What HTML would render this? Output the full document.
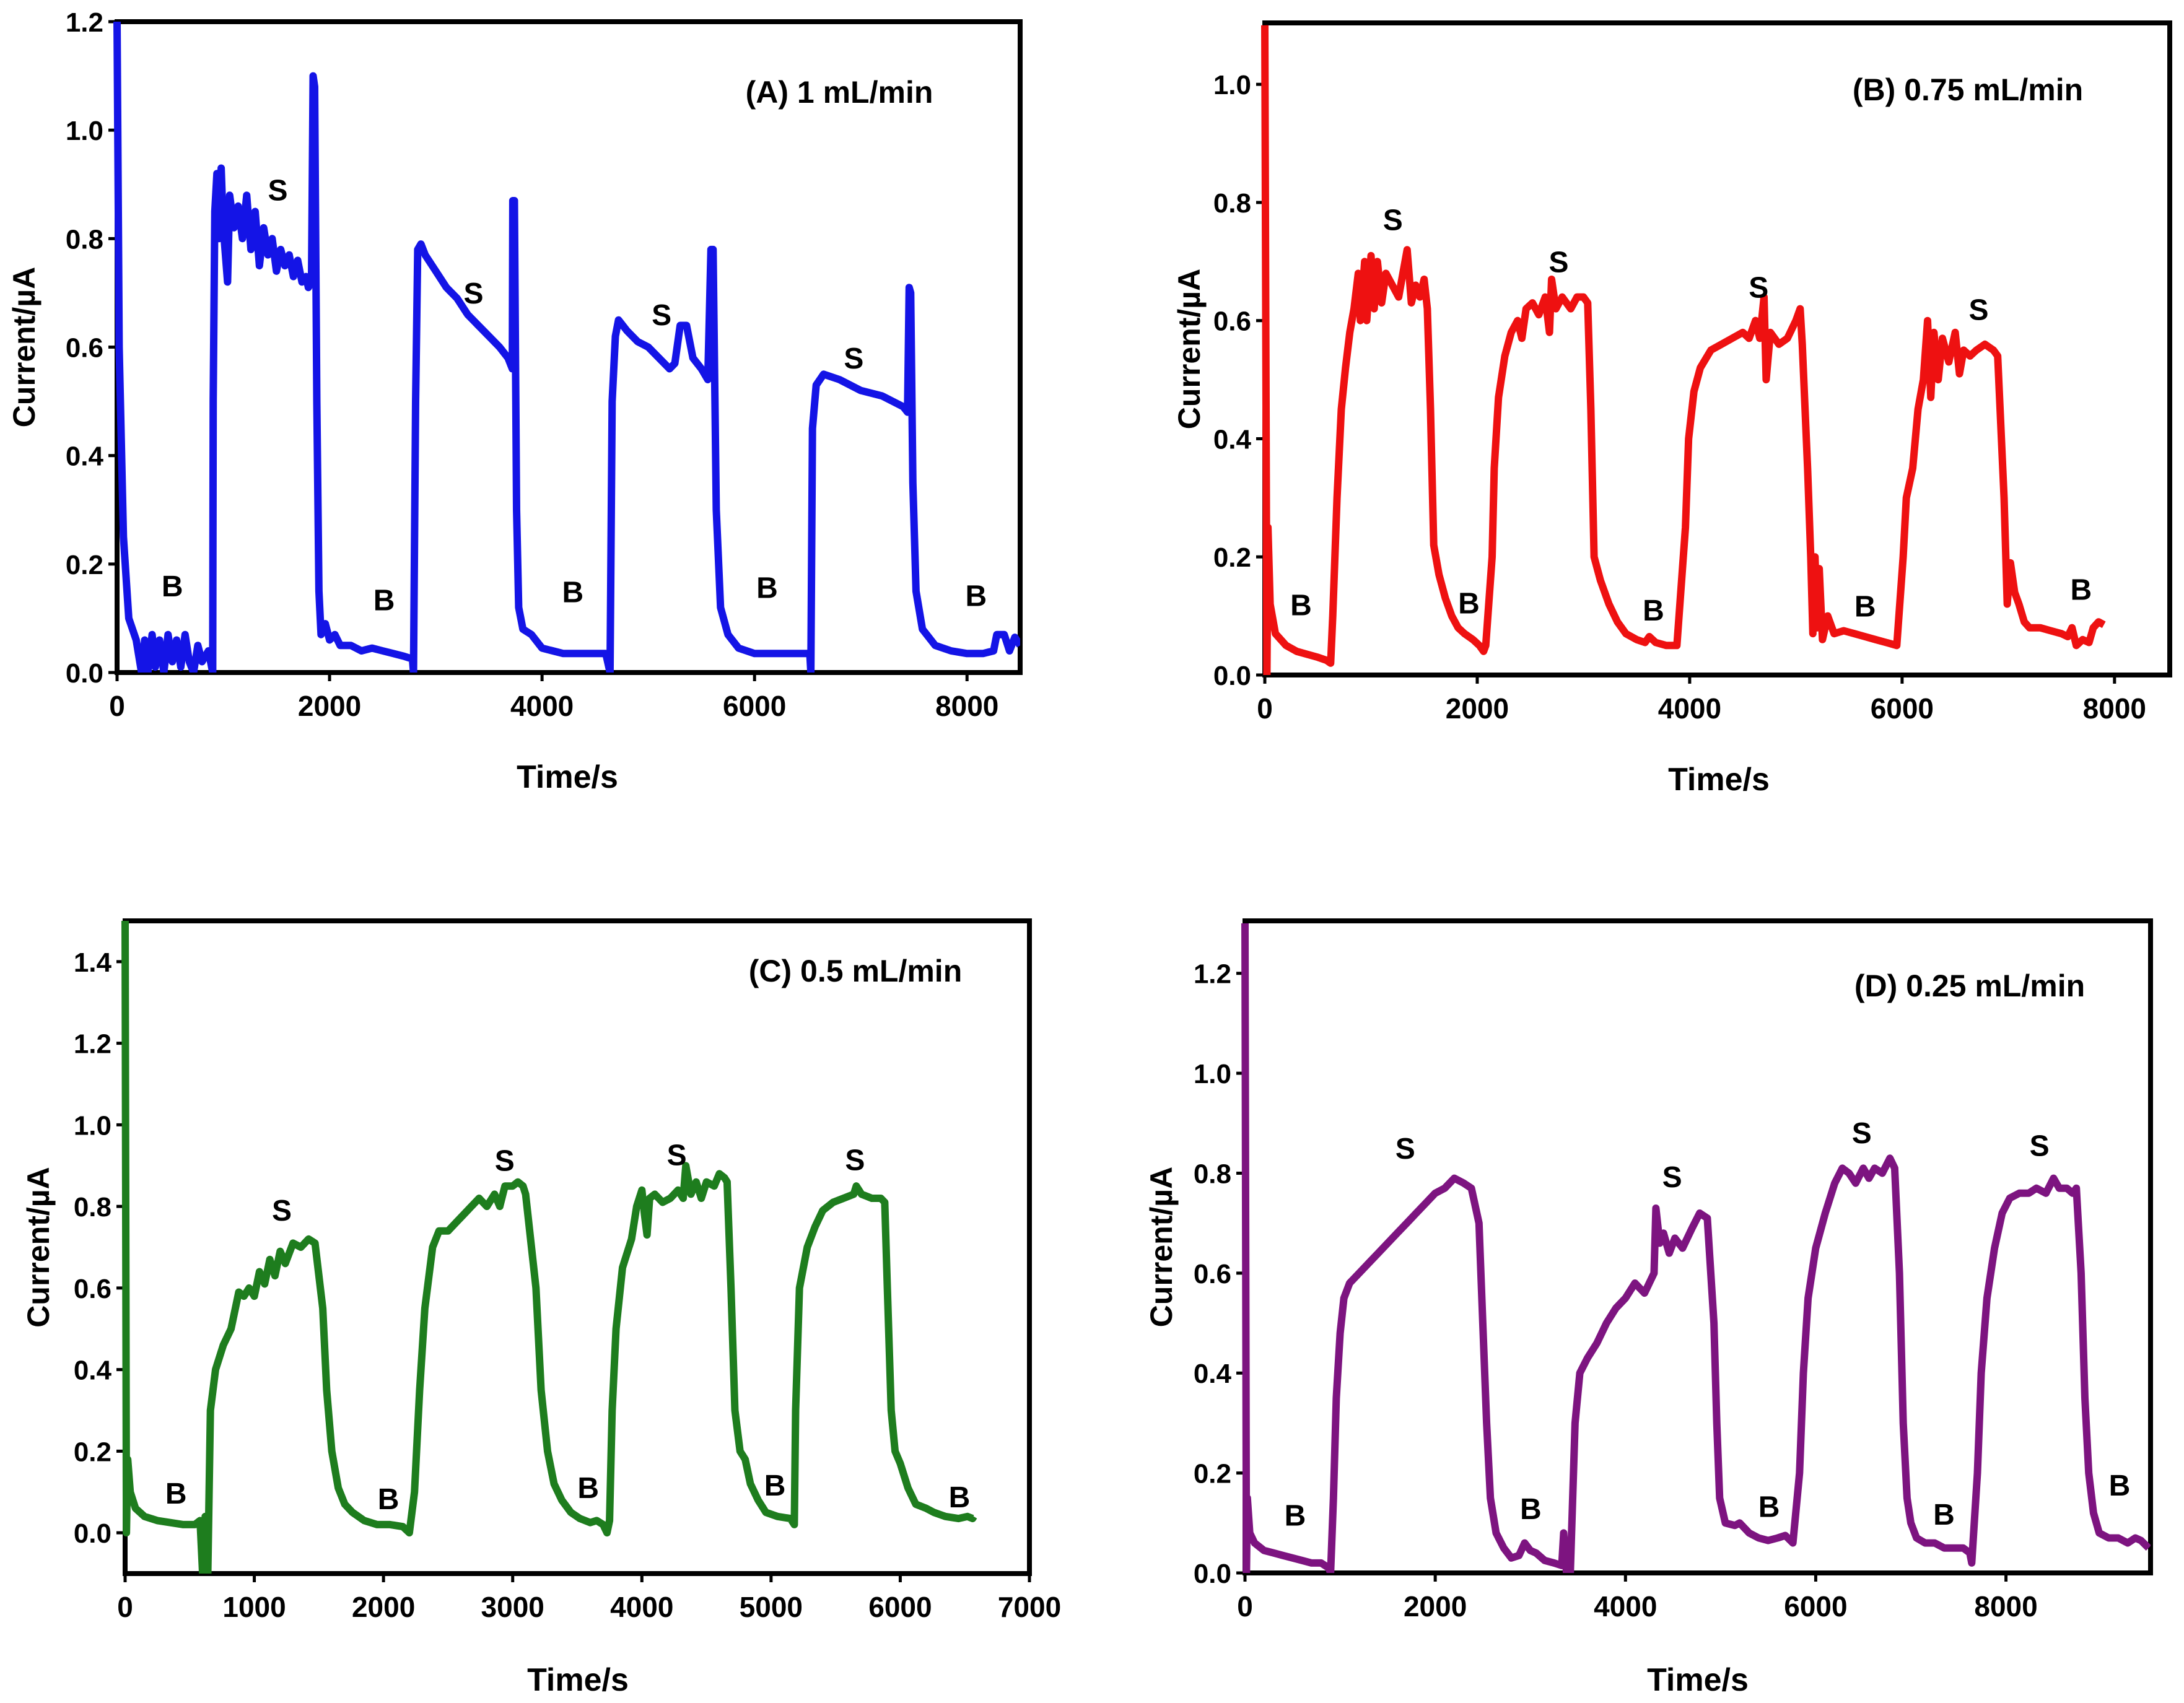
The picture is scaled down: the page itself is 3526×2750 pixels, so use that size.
<!DOCTYPE html>
<html><head><meta charset="utf-8"><style>
html,body{margin:0;padding:0;background:#fff;}
svg{display:block;}
text{font-family:"Liberation Sans",Arial,sans-serif;font-weight:bold;fill:#000;}
</style></head><body>
<svg id="fig" xmlns="http://www.w3.org/2000/svg" width="3526" height="2750" viewBox="0 0 3526 2750"></svg>
<script>
const seriesA=[[0,1.2],[20,0.6],[60,0.25],[110,0.1],[180,0.06],[230,0.0],[260,0.06],[290,0.0],[330,0.07],[360,0.01],[400,0.06],[440,0.0],[480,0.07],[520,0.02],[560,0.06],[600,0.01],[640,0.07],[680,0.02],[720,0.0],[760,0.05],[800,0.02],[860,0.04],[900,0.0],[905,0.5],[920,0.85],[940,0.92],[960,0.8],[980,0.93],[1000,0.82],[1040,0.72],[1060,0.88],[1100,0.82],[1140,0.86],[1180,0.8],[1220,0.88],[1260,0.78],[1300,0.85],[1340,0.75],[1380,0.82],[1420,0.77],[1460,0.8],[1500,0.74],[1540,0.78],[1580,0.75],[1620,0.77],[1660,0.73],[1700,0.76],[1740,0.72],[1780,0.73],[1800,0.71],[1830,0.72],[1845,1.1],[1860,1.08],[1880,0.5],[1900,0.15],[1920,0.07],[1960,0.09],[2000,0.06],[2050,0.07],[2100,0.05],[2200,0.05],[2300,0.04],[2400,0.045],[2500,0.04],[2600,0.035],[2700,0.03],[2780,0.025],[2790,0.0],[2810,0.5],[2830,0.78],[2860,0.79],[2900,0.77],[3000,0.74],[3100,0.71],[3200,0.69],[3300,0.66],[3400,0.64],[3500,0.62],[3600,0.6],[3680,0.58],[3720,0.56],[3725,0.87],[3740,0.87],[3760,0.3],[3780,0.12],[3820,0.08],[3900,0.07],[4000,0.045],[4200,0.035],[4400,0.035],[4600,0.035],[4640,0.0],[4660,0.5],[4690,0.62],[4720,0.65],[4800,0.63],[4900,0.61],[5000,0.6],[5100,0.58],[5200,0.56],[5250,0.57],[5300,0.64],[5360,0.64],[5420,0.58],[5500,0.56],[5560,0.54],[5590,0.78],[5610,0.78],[5640,0.3],[5680,0.12],[5750,0.07],[5850,0.045],[6000,0.035],[6200,0.035],[6400,0.035],[6520,0.035],[6530,0.0],[6545,0.45],[6580,0.53],[6650,0.55],[6800,0.54],[7000,0.52],[7200,0.51],[7400,0.49],[7440,0.48],[7455,0.71],[7470,0.7],[7490,0.35],[7520,0.15],[7580,0.08],[7700,0.05],[7850,0.04],[8000,0.035],[8150,0.035],[8250,0.04],[8280,0.07],[8350,0.07],[8400,0.04],[8450,0.065],[8500,0.05]];
const seriesB=[[0,1.1],[20,0.0],[30,0.25],[50,0.12],[100,0.07],[200,0.05],[300,0.04],[400,0.035],[500,0.03],[580,0.025],[620,0.02],[640,0.1],[680,0.3],[720,0.45],[760,0.52],[800,0.58],[840,0.62],[880,0.68],[900,0.6],[940,0.7],[960,0.6],[1000,0.71],[1030,0.62],[1060,0.7],[1100,0.63],[1140,0.68],[1200,0.66],[1260,0.64],[1300,0.68],[1340,0.72],[1380,0.63],[1420,0.66],[1460,0.64],[1500,0.67],[1530,0.62],[1560,0.45],[1590,0.22],[1640,0.17],[1700,0.13],[1760,0.1],[1820,0.08],[1880,0.07],[1960,0.06],[2020,0.05],[2060,0.04],[2080,0.05],[2140,0.2],[2160,0.35],[2200,0.47],[2260,0.54],[2320,0.58],[2380,0.6],[2420,0.57],[2460,0.62],[2520,0.63],[2580,0.61],[2640,0.64],[2680,0.58],[2700,0.67],[2740,0.62],[2800,0.64],[2880,0.62],[2940,0.64],[3000,0.64],[3040,0.63],[3070,0.45],[3100,0.2],[3160,0.16],[3240,0.12],[3320,0.09],[3400,0.07],[3500,0.06],[3580,0.055],[3620,0.065],[3680,0.055],[3780,0.05],[3880,0.05],[3960,0.25],[3990,0.4],[4040,0.48],[4100,0.52],[4200,0.55],[4300,0.56],[4400,0.57],[4500,0.58],[4560,0.57],[4620,0.6],[4660,0.57],[4700,0.64],[4720,0.5],[4760,0.58],[4840,0.56],[4920,0.57],[5000,0.6],[5040,0.62],[5060,0.56],[5110,0.35],[5140,0.2],[5160,0.07],[5180,0.2],[5200,0.08],[5220,0.18],[5250,0.06],[5300,0.1],[5360,0.07],[5450,0.075],[5550,0.07],[5650,0.065],[5750,0.06],[5850,0.055],[5950,0.05],[6010,0.2],[6040,0.3],[6100,0.35],[6150,0.45],[6200,0.5],[6240,0.6],[6270,0.47],[6300,0.58],[6340,0.5],[6380,0.57],[6440,0.53],[6500,0.58],[6540,0.51],[6580,0.55],[6640,0.54],[6700,0.55],[6780,0.56],[6860,0.55],[6900,0.54],[6960,0.3],[6990,0.12],[7020,0.19],[7060,0.14],[7100,0.12],[7150,0.09],[7200,0.08],[7300,0.08],[7400,0.075],[7500,0.07],[7560,0.065],[7600,0.08],[7640,0.05],[7700,0.06],[7760,0.055],[7800,0.08],[7850,0.09],[7900,0.085]];
const seriesC=[[0,1.5],[10,0.0],[20,0.18],[40,0.1],[80,0.06],[150,0.04],[250,0.03],[350,0.025],[450,0.02],[540,0.02],[580,0.03],[600,-0.1],[620,0.04],[640,-0.1],[660,0.3],[700,0.4],[760,0.46],[820,0.5],[880,0.59],[920,0.58],[960,0.6],[1000,0.58],[1040,0.64],[1080,0.61],[1120,0.67],[1160,0.63],[1200,0.69],[1240,0.66],[1300,0.71],[1360,0.7],[1420,0.72],[1470,0.71],[1530,0.55],[1560,0.35],[1600,0.2],[1650,0.11],[1700,0.07],[1760,0.05],[1850,0.03],[1950,0.02],[2050,0.02],[2150,0.015],[2200,0.0],[2240,0.1],[2280,0.35],[2320,0.55],[2380,0.7],[2430,0.74],[2500,0.74],[2560,0.76],[2620,0.78],[2680,0.8],[2740,0.82],[2800,0.8],[2860,0.83],[2900,0.8],[2940,0.85],[3000,0.85],[3040,0.86],[3080,0.85],[3100,0.83],[3180,0.6],[3220,0.35],[3270,0.2],[3320,0.12],[3380,0.08],[3450,0.05],[3520,0.035],[3600,0.025],[3650,0.03],[3700,0.02],[3730,0.0],[3750,0.03],[3770,0.3],[3800,0.5],[3850,0.65],[3920,0.72],[3960,0.8],[4000,0.84],[4020,0.78],[4040,0.73],[4060,0.82],[4100,0.83],[4160,0.81],[4220,0.82],[4280,0.84],[4320,0.82],[4340,0.9],[4380,0.83],[4420,0.86],[4460,0.82],[4500,0.86],[4560,0.85],[4600,0.88],[4640,0.87],[4660,0.86],[4690,0.6],[4720,0.3],[4760,0.2],[4800,0.18],[4840,0.12],[4900,0.08],[4960,0.05],[5050,0.04],[5150,0.035],[5180,0.02],[5190,0.3],[5220,0.6],[5280,0.7],[5340,0.75],[5400,0.79],[5480,0.81],[5560,0.82],[5640,0.83],[5660,0.85],[5700,0.83],[5780,0.82],[5850,0.82],[5880,0.81],[5900,0.6],[5930,0.3],[5960,0.2],[6000,0.17],[6060,0.11],[6120,0.07],[6200,0.06],[6260,0.05],[6350,0.04],[6450,0.035],[6520,0.04],[6560,0.035],[6570,0.04]];
const seriesD=[[0,1.3],[15,0.0],[25,0.15],[50,0.08],[100,0.06],[200,0.045],[300,0.04],[400,0.035],[500,0.03],[600,0.025],[700,0.02],[800,0.02],[880,0.01],[900,0.0],[930,0.15],[960,0.35],[1000,0.48],[1040,0.55],[1100,0.58],[1200,0.6],[1300,0.62],[1400,0.64],[1500,0.66],[1600,0.68],[1700,0.7],[1800,0.72],[1900,0.74],[2000,0.76],[2100,0.77],[2200,0.79],[2300,0.78],[2380,0.77],[2460,0.7],[2500,0.5],[2540,0.3],[2580,0.15],[2640,0.08],[2720,0.05],[2800,0.03],[2880,0.035],[2940,0.06],[3000,0.045],[3060,0.04],[3150,0.025],[3250,0.02],[3330,0.015],[3350,0.08],[3380,0.0],[3420,0.0],[3470,0.3],[3520,0.4],[3600,0.43],[3700,0.46],[3800,0.5],[3900,0.53],[4000,0.55],[4100,0.58],[4200,0.56],[4300,0.6],[4320,0.73],[4360,0.66],[4400,0.68],[4460,0.64],[4520,0.67],[4600,0.65],[4700,0.69],[4780,0.72],[4860,0.71],[4930,0.5],[4960,0.3],[4990,0.15],[5050,0.1],[5150,0.095],[5200,0.1],[5300,0.08],[5400,0.07],[5500,0.065],[5600,0.07],[5680,0.075],[5760,0.06],[5830,0.2],[5870,0.4],[5920,0.55],[6000,0.65],[6100,0.72],[6200,0.78],[6280,0.81],[6350,0.8],[6420,0.78],[6500,0.81],[6560,0.79],[6620,0.81],[6700,0.8],[6780,0.83],[6830,0.81],[6880,0.6],[6920,0.3],[6960,0.15],[7000,0.1],[7060,0.07],[7150,0.06],[7250,0.06],[7350,0.05],[7450,0.05],[7550,0.05],[7620,0.04],[7640,0.02],[7700,0.2],[7740,0.4],[7800,0.55],[7880,0.65],[7960,0.72],[8040,0.75],[8140,0.76],[8240,0.76],[8320,0.77],[8420,0.76],[8500,0.79],[8560,0.77],[8640,0.77],[8700,0.76],[8740,0.77],[8790,0.6],[8830,0.35],[8870,0.2],[8920,0.12],[8980,0.08],[9080,0.07],[9180,0.07],[9280,0.06],[9360,0.07],[9420,0.065],[9500,0.05]];
const xTicksA=[0,2000,4000,6000,8000];
const yTicksA=[0.0,0.2,0.4,0.6,0.8,1.0,1.2];
const xTicksB=[0,2000,4000,6000,8000];
const yTicksB=[0.0,0.2,0.4,0.6,0.8,1.0];
const xTicksC=[0,1000,2000,3000,4000,5000,6000,7000];
const yTicksC=[0.0,0.2,0.4,0.6,0.8,1.0,1.2,1.4];
const xTicksD=[0,2000,4000,6000,8000];
const yTicksD=[0.0,0.2,0.4,0.6,0.8,1.0,1.2];
const sLabelsA=[[1513,0.89],[3355,0.70],[5125,0.66],[6934,0.58]];
const bLabelsA=[[520,0.16],[2513,0.134],[4290,0.149],[6118,0.157],[8085,0.142]];
const sLabelsB=[[1206,0.771],[2767,0.70],[4649,0.657],[6721,0.619]];
const bLabelsB=[[341,0.119],[1921,0.122],[3659,0.11],[5652,0.117],[7685,0.145]];
const sLabelsC=[[1213,0.791],[2938,0.913],[4270,0.927],[5650,0.915]];
const bLabelsC=[[394,0.097],[2038,0.084],[3585,0.111],[5030,0.117],[6458,0.088]];
const sLabelsD=[[1685,0.85],[4491,0.793],[6484,0.881],[8352,0.856]];
const bLabelsD=[[527,0.116],[3004,0.129],[5509,0.133],[7348,0.118],[9194,0.176]];

const NS="http://www.w3.org/2000/svg";
const svg=document.getElementById('fig');
function mk(tag,attrs,parent){const e=document.createElementNS(NS,tag);for(const k in attrs)e.setAttribute(k,attrs[k]);(parent||svg).appendChild(e);return e;}

function panel(id,box,xr,yr,xt,yt,series,color,title,titlePos,sL,bL,yTitleX,timePos){
  const g=mk('g',{});
  
  
  const X=t=>box.l+(t-xr[0])/(xr[1]-xr[0])*(box.r-box.l);
  const Y=v=>box.b-(v-yr[0])/(yr[1]-yr[0])*(box.b-box.t);
  const clip=mk('clipPath',{id:'clip'+id},g);
  mk('rect',{x:box.l-6,y:box.t,width:box.r-box.l+6,height:box.b-box.t},clip);
  xt.forEach(t=>{
    const tk=mk('line',{x1:X(t),x2:X(t),y1:box.b,y2:box.b+14,stroke:'#000','stroke-width':5},g);
    
    
    const lb=mk('text',{x:X(t),y:box.b+70,'text-anchor':'middle','font-size':46},g);
    lb.textContent=String(t);
    
    
  });
  yt.forEach(v=>{
    const tk=mk('line',{x1:box.l-14,x2:box.l,y1:Y(v),y2:Y(v),stroke:'#000','stroke-width':5},g);
    
    
    const lb=mk('text',{x:box.l-22,y:Y(v)+16,'text-anchor':'end','font-size':44},g);
    lb.textContent=v.toFixed(1);
    
    
  });
  const fr=mk('rect',{x:box.l,y:box.t,width:box.r-box.l,height:box.b-box.t,fill:'none',stroke:'#000','stroke-width':8},g);
  
  
  const d=series.map((p,i)=>(i?'L':'M')+X(p[0]).toFixed(1)+' '+Y(p[1]).toFixed(1)).join(' ');
  const ln=mk('path',{d:d,fill:'none',stroke:color,'stroke-width':12,'stroke-linejoin':'round','clip-path':'url(#clip'+id+')'},g);
  
  
  sL.forEach(p=>{const t=mk('text',{x:X(p[0]),y:Y(p[1])+17,'text-anchor':'middle','font-size':48},g);t.textContent='S';
    
    });
  bL.forEach(p=>{const t=mk('text',{x:X(p[0]),y:Y(p[1])+17,'text-anchor':'middle','font-size':48},g);t.textContent='B';
    
    });
  const tt=mk('text',{x:titlePos[0],y:titlePos[1]+17,'text-anchor':'middle','font-size':50},g);
  tt.textContent=title;
  
  
  const cy=(box.t+box.b)/2;
  const yl=mk('text',{x:yTitleX+17,y:cy,'text-anchor':'middle','font-size':50,transform:'rotate(-90 '+(yTitleX+17)+' '+cy+')'},g);
  yl.textContent='Current/\u00B5A';
  
  
  const xl=mk('text',{x:timePos[0],y:timePos[1]+18,'text-anchor':'middle','font-size':52},g);
  xl.textContent='Time/s';
  
  
}
panel('a',{l:189,r:1647,t:35,b:1086},[0,8500],[0,1.2],xTicksA,yTicksA,seriesA,'#1414e6','(A) 1 mL/min',[1355,149],sLabelsA,bLabelsA,39,[916,1254]);
panel('b',{l:2042,r:3503,t:37,b:1090},[0,8520],[0,1.104],xTicksB,yTicksB,seriesB,'#ee1111','(B) 0.75 mL/min',[3177,145],sLabelsB,bLabelsB,1920,[2775,1258]);
panel('c',{l:202,r:1662,t:1487,b:2541},[0,7000],[-0.1,1.5],xTicksC,yTicksC,seriesC,'#1e7d1e','(C) 0.5 mL/min',[1381,1568],sLabelsC,bLabelsC,62,[933,2712]);
panel('d',{l:2010,r:3472,t:1487,b:2540},[0,9520],[0,1.305],xTicksD,yTicksD,seriesD,'#7d1480','(D) 0.25 mL/min',[3180,1592],sLabelsD,bLabelsD,1875,[2741,2712]);
</script>
</body></html>
